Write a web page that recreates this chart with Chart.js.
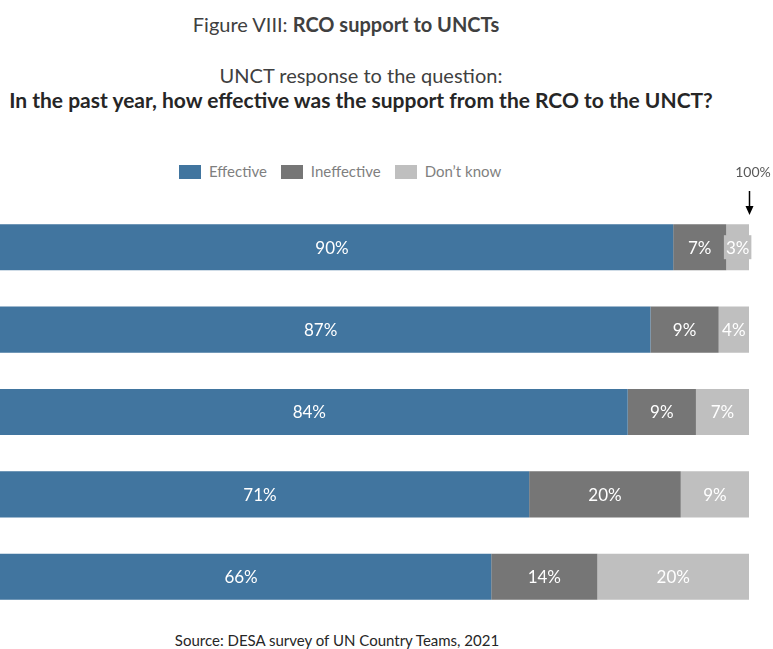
<!DOCTYPE html>
<html>
<head>
<meta charset="utf-8">
<script src="https://cdn.jsdelivr.net/npm/chart.js@4"></script>
<style>
  html, body { margin: 0; padding: 0; background: #fff; }
  body { width: 773px; height: 649px; position: relative; overflow: hidden; font-family: Lato, "Open Sans", sans-serif; }
  .txt { position: absolute; white-space: nowrap; transform: translateX(-50%); line-height: 1; }
  #title { left: 346px; top: 14px; font-size: 20px; color: #404040; }
  #sub { left: 361px; top: 65px; font-size: 20px; color: #404040; }
  #question { left: 361px; top: 89px; font-size: 21px; font-weight: bold; color: #262626; }
  #source { left: 337px; top: 633px; font-size: 15px; color: #262626; }
  #legend { position: absolute; left: 179px; top: 164px; display: flex; font-size: 15px; line-height: 1; color: #7f7f7f; }
  #legend span.item { display: flex; align-items: center; margin-right: 14px; }
  #legend i { display: inline-block; width: 22px; height: 14px; margin-right: 8px; }
  #wrap { position: absolute; left: 0; top: 0; width: 773px; height: 649px; }
</style>
</head>
<body>
<div id="title" class="txt">Figure VIII: <b>RCO support to UNCTs</b></div>
<div id="sub" class="txt">UNCT response to the question:</div>
<div id="question" class="txt">In the past year, how effective was the support from the RCO to the UNCT?</div>
<div id="legend"></div>
<div id="source" class="txt">Source: DESA survey of UN Country Teams, 2021</div>
<div id="wrap"><canvas id="chart" width="773" height="649"></canvas></div>
<script>
const categories = ['Row 1', 'Row 2', 'Row 3', 'Row 4', 'Row 5'];
const seriesNames = ['Effective', 'Ineffective', 'Don\u2019t know'];
const effective = [90, 87, 84, 71, 66];
const ineffective = [7, 9, 9, 20, 14];
const dontKnow = [3, 4, 7, 9, 20];
const colors = ['#41759f', '#767676', '#bfbfbf'];

// legend built from the series list
const legend = document.getElementById('legend');
seriesNames.forEach((name, i) => {
  const item = document.createElement('span');
  item.className = 'item';
  item.innerHTML = '<i style="background:' + colors[i] + '"></i>' + name;
  legend.appendChild(item);
});

const valueLabels = {
  id: 'valueLabels',
  afterDatasetsDraw(chart) {
    const ctx = chart.ctx;
    ctx.save();
    ctx.font = '17px Lato, "Open Sans", sans-serif';
    ctx.textAlign = 'center';
    ctx.textBaseline = 'middle';
    chart.data.datasets.forEach((ds, di) => {
      chart.getDatasetMeta(di).data.forEach((bar, i) => {
        const text = ds.data[i] + '%';
        const cx = (bar.x + bar.base) / 2;
        const w = ctx.measureText(text).width;
        if (w + 4 > Math.abs(bar.x - bar.base)) {
          ctx.fillStyle = ds.backgroundColor;
          ctx.fillRect(cx - w / 2 - 2, bar.y - 12, w + 4, 24);
        }
        ctx.fillStyle = '#ffffff';
        ctx.fillText(text, cx, bar.y + 1);
      });
    });
    ctx.restore();
  }
};

// "100%" marker with a down arrow above the first bar's end
const fullMark = {
  id: 'fullMark',
  afterDraw(chart) {
    const ctx = chart.ctx;
    const x = chart.scales.x.getPixelForValue(100);
    ctx.save();
    ctx.fillStyle = '#595959';
    ctx.font = '14px Lato, "Open Sans", sans-serif';
    ctx.textAlign = 'center';
    ctx.fillText('100%', x + 4, 177);
    ctx.strokeStyle = '#000';
    ctx.lineWidth = 1.5;
    ctx.beginPath();
    ctx.moveTo(x + 0.5, 191);
    ctx.lineTo(x + 0.5, 212);
    ctx.stroke();
    ctx.fillStyle = '#000';
    ctx.beginPath();
    ctx.moveTo(x - 3.5, 206);
    ctx.lineTo(x + 4.5, 206);
    ctx.lineTo(x + 0.5, 215);
    ctx.closePath();
    ctx.fill();
    ctx.restore();
  }
};

new Chart(document.getElementById('chart'), {
  type: 'bar',
  data: {
    labels: categories,
    datasets: [effective, ineffective, dontKnow].map((d, i) => ({
      label: seriesNames[i],
      data: d,
      backgroundColor: colors[i],
      borderWidth: 0,
      barPercentage: 0.56,
      categoryPercentage: 1
    }))
  },
  options: {
    indexAxis: 'y',
    responsive: false,
    animation: false,
    layout: { padding: { top: 206, bottom: 31, left: 0, right: 24 } },
    scales: {
      x: { stacked: true, min: 1.2, max: 100, display: false },
      y: { stacked: true, display: false }
    },
    plugins: {
      legend: { display: false },
      tooltip: { enabled: false }
    }
  },
  plugins: [valueLabels, fullMark]
});
</script>
</body>
</html>
